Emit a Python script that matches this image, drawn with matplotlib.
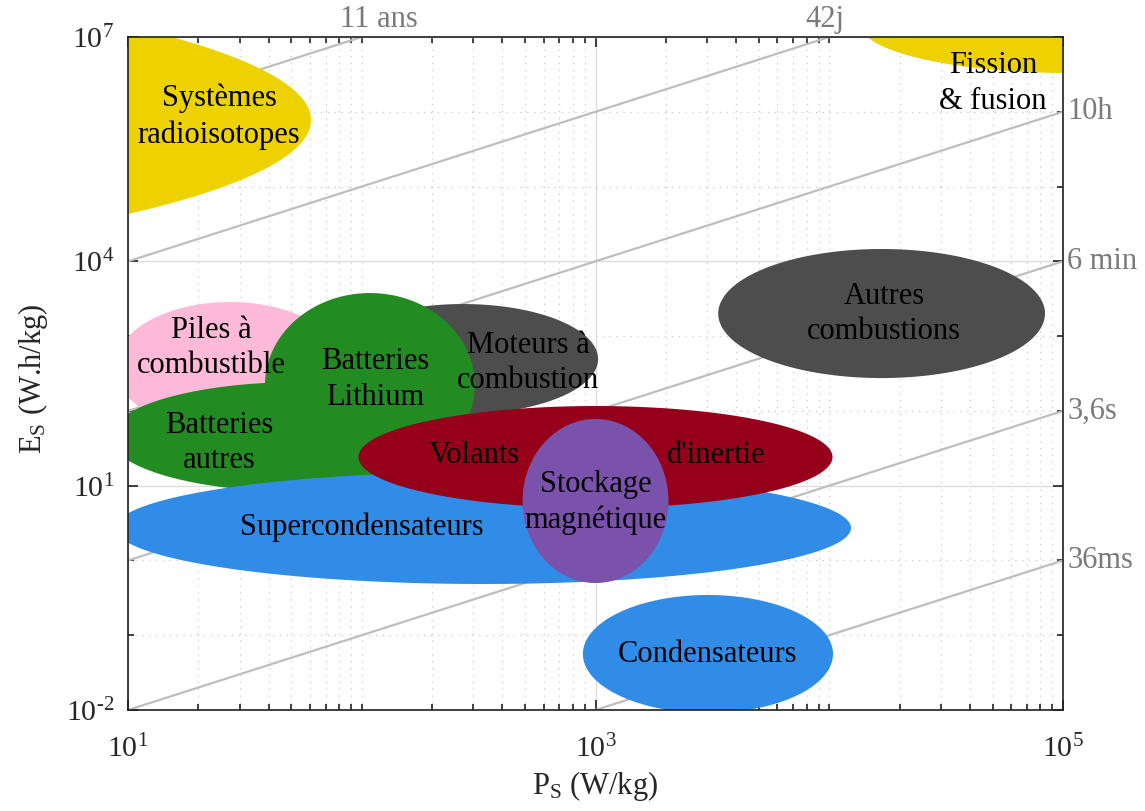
import numpy as np
import matplotlib
matplotlib.use("Agg")
import matplotlib.pyplot as plt
from matplotlib.ticker import FixedLocator, LogLocator, FuncFormatter, NullFormatter

plt.rcParams['font.family'] = ['Liberation Serif', 'DejaVu Serif']
plt.rcParams['mathtext.fontset'] = 'custom'
plt.rcParams['mathtext.rm'] = 'Liberation Serif'
plt.rcParams['mathtext.it'] = 'Liberation Serif:italic'
plt.rcParams['mathtext.default'] = 'regular'
plt.rcParams['axes.unicode_minus'] = False

# ---- Data (log10 units: centre P, centre E, half-width in decades, half-height in decades)
tech_names = ["Systèmes radioisotopes", "Fission & fusion", "Piles à combustible",
              "Moteurs à combustion", "Autres combustions", "Batteries autres",
              "Batteries Lithium", "Supercondensateurs", "Volants d'inertie",
              "Stockage magnétique", "Condensateurs"]
center_logP = [-2.495, 5.03, 1.436, 2.433, 4.224, 1.736, 2.035, 2.519, 3.0, 3.0, 3.481]
center_logE = [5.890, 7.16, 2.587, 2.694, 3.302, 1.651, 2.346, 0.434, 1.383, 0.795, -1.251]
halfwidth_dec = [4.278, 0.894, 0.492, 0.578, 0.699, 0.813, 0.449, 1.574, 1.014, 0.312, 0.535]
halfheight_dec = [2.18, 0.642, 0.869, 0.735, 0.863, 0.735, 1.230, 0.749, 0.682, 1.097, 0.789]
colors = ["#EDD200", "#EDD200", "#FDB9D8", "#4D4D4D", "#4D4D4D", "#228B22",
          "#228B22", "#318CE7", "#96001A", "#7B52AB", "#318CE7"]

# text labels (P, E) of the centre of each label block
label_texts = ["Systèmes\nradioisotopes", "Fission\n& fusion", "Piles à\ncombustible",
               "Batteries\nLithium", "Moteurs à\ncombustion", "Autres\ncombustions",
               "Batteries\nautres", "Volants", "d'inertie", "Stockage\nmagnétique",
               "Supercondensateurs", "Condensateurs"]
label_P = [24.5, 50200, 22.7, 114, 514, 17150, 24.5, 302, 3278, 1000, 100, 3000]
label_E = [8.6e5, 2.4e6, 690, 265, 435, 1980, 37.0, 25.0, 25.0, 6.0, 2.75, 0.056]

# constant discharge-time lines (hours) and their labels
t_hours = [1e5, 1e3, 1e1, 1e-1, 1e-3, 1e-5]
t_labels = ["11 ans", "42j", "10h", "6 min", "3,6s", "36ms"]

P_range = [10, 1e5]
E_range = [1e-2, 1e7]

# ---- Figure
fig = plt.figure(figsize=(11.45, 8.11), dpi=100)
ax = fig.add_axes([128/1145, 1-710/811, 935/1145, 673/811])
ax.set_xscale('log')
ax.set_yscale('log')
ax.set_xlim(P_range)
ax.set_ylim(E_range)

# grid
ax.set_axisbelow(True)
ax.grid(True, which='major', color='#DCDCDC', lw=1.0, ls='-', zorder=0)
ax.grid(True, which='minor', color='#C8C8C8', lw=0.9, ls=(0, (1, 4.5)), zorder=0)

# time lines
Pl = np.logspace(1, 5, 200)
for t in t_hours:
    ax.plot(Pl, t * Pl, color='#BEBEBE', lw=1.6, zorder=1, clip_on=True)

# ellipses
theta = np.linspace(0, 2*np.pi, 400)
for cx, cy, aw, bh, c in zip(center_logP, center_logE, halfwidth_dec, halfheight_dec, colors):
    xs = 10 ** (cx + aw*np.cos(theta))
    ys = 10 ** (cy + bh*np.sin(theta))
    ax.fill(xs, ys, color=c, lw=0, zorder=2)

# labels
for txt, p, e in zip(label_texts, label_P, label_E):
    ax.text(p, e, txt, ha='center', va='center', fontsize=22, color='black',
            zorder=4, linespacing=1.3)

# time labels
gray = '#7A7A7A'
for t, lab in zip(t_hours, t_labels):
    Eend = t * P_range[1]
    if Eend <= E_range[1]:
        ax.annotate(lab, xy=(P_range[1], Eend), xytext=(3, 0),
                    textcoords='offset points', ha='left', va='center',
                    fontsize=22, color=gray, annotation_clip=False)
    else:
        Pend = E_range[1] / t
        ax.annotate(lab, xy=(Pend, E_range[1]), xytext=(12 if t > 1e4 else -3, 2),
                    textcoords='offset points', ha='center', va='bottom',
                    fontsize=22, color=gray, annotation_clip=False)


def dec_fmt(v, pos):
    e = int(round(np.log10(v)))
    es = str(e).replace('-', '\u2010')
    return r'$\mathregular{10^{%s}}$' % es


# ticks
ax.xaxis.set_major_locator(FixedLocator([1e1, 1e3, 1e5]))
ax.xaxis.set_minor_locator(LogLocator(base=10, subs=np.arange(1, 10), numticks=100))
ax.yaxis.set_major_locator(FixedLocator([1e-2, 1e1, 1e4, 1e7]))
ax.yaxis.set_minor_locator(LogLocator(base=10, subs=[1.0], numticks=100))
ax.xaxis.set_major_formatter(FuncFormatter(dec_fmt))
ax.yaxis.set_major_formatter(FuncFormatter(dec_fmt))
ax.xaxis.set_minor_formatter(NullFormatter())
ax.yaxis.set_minor_formatter(NullFormatter())
ax.tick_params(which='both', direction='in', top=True, right=True, colors='#202020',
               width=1.2, labelsize=21.5, labelcolor='#262626')
ax.tick_params(which='major', length=7.2)
ax.tick_params(which='minor', length=4.3)
ax.tick_params(axis='x', which='major', pad=18)
ax.tick_params(axis='y', which='major', pad=10)
for s in ax.spines.values():
    s.set_color('#202020')
    s.set_linewidth(1.2)
    s.set_zorder(5)

ax.set_xlabel(r'P$_\mathregular{S}$ (W/kg)', fontsize=22, color='#262626')
ax.set_ylabel(r'E$_\mathregular{S}$ (W.h/kg)', fontsize=22, color='#262626')
ax.xaxis.set_label_coords(0.5, -0.088)
ax.yaxis.set_label_coords(-0.083, 0.493)

fig.savefig('out.png', dpi=100)
